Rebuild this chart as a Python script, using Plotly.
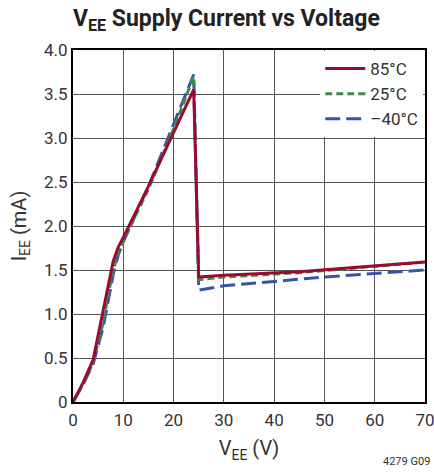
import plotly.graph_objects as go

# Data (VEE in V, IEE in mA)
v_85 = [0, 2, 4, 6, 7, 8, 9, 10, 15, 20, 24, 25, 30, 45, 70]
i_85 = [0, 0.22, 0.48, 1.05, 1.35, 1.6, 1.76, 1.87, 2.45, 3.05, 3.55, 1.42, 1.44, 1.48, 1.59]

v_25 = [0, 2, 4, 6, 7, 8, 9, 10, 15, 20, 24, 25, 30, 45, 70]
i_25 = [0, 0.2, 0.45, 0.9, 1.22, 1.5, 1.7, 1.83, 2.42, 3.1, 3.70, 1.39, 1.42, 1.47, 1.59]

v_m40 = [0, 2, 4, 6, 7, 8, 9, 10, 15, 20, 24, 25, 30, 40, 50, 70]
i_m40 = [0, 0.2, 0.43, 0.85, 1.15, 1.45, 1.67, 1.82, 2.45, 3.15, 3.72, 1.27, 1.32, 1.37, 1.42, 1.50]

x_ticks = [0, 10, 20, 30, 40, 50, 60, 70]
y_ticks = [0, 0.5, 1.0, 1.5, 2.0, 2.5, 3.0, 3.5, 4.0]
y_labels = ["0", "0.5", "1.0", "1.5", "2.0", "2.5", "3.0", "3.5", "4.0"]

FONT = "Roboto, Liberation Sans, sans-serif"

fig = go.Figure()
fig.add_trace(go.Scatter(x=v_m40, y=i_m40, mode="lines", name="–40°C",
                         line=dict(color="#3954a6", width=3, dash="15px,6px")))
fig.add_trace(go.Scatter(x=v_25, y=i_25, mode="lines", name="25°C",
                         line=dict(color="#3b8c4a", width=3, dash="7px,4px")))
fig.add_trace(go.Scatter(x=v_85, y=i_85, mode="lines", name="85°C",
                         line=dict(color="#9a0b30", width=3)))

fig.update_layout(
    width=434, height=472,
    margin=dict(l=73, r=9, t=50, b=70, autoexpand=False),
    paper_bgcolor="white", plot_bgcolor="white",
    font=dict(family=FONT, size=17, color="#333333"),
    title=dict(text="<b>V<sub>EE</sub> Supply Current vs Voltage</b>",
               x=0.168, xanchor="left", y=0.979, yanchor="top",
               font=dict(family=FONT, size=23, color="#222222")),
    showlegend=True,
    legend=dict(x=0.995, y=0.997, xanchor="right", yanchor="top",
                bgcolor="white", borderwidth=0, traceorder="reversed",
                font=dict(family=FONT, size=17, color="#333333"),
                itemwidth=40, tracegroupgap=0),
    xaxis=dict(range=[0, 70], tickvals=x_ticks, showgrid=True,
               gridcolor="#555555", gridwidth=1, showline=True,
               linecolor="black", linewidth=2, mirror=True, ticks="",
               zeroline=False, automargin=False, ticklabeloverflow="allow",
               title=dict(text="V<sub>EE</sub> (V)", standoff=12),
               ticklabelstandoff=2),
    yaxis=dict(range=[0, 4.0], tickvals=y_ticks, ticktext=y_labels,
               showgrid=True, gridcolor="#555555", gridwidth=1,
               showline=True, linecolor="black", linewidth=2, mirror=True,
               ticks="", zeroline=False, automargin=False,
               ticklabeloverflow="allow",
               title=dict(text="I<sub>EE</sub> (mA)", standoff=12)),
)

fig.add_annotation(text="4279 G09", xref="paper", yref="paper",
                   x=1.02, y=-0.145, xanchor="right", yanchor="top",
                   showarrow=False, font=dict(family=FONT, size=11, color="#333333"))

fig.write_html("out.html", config={"displayModeBar": False},
               post_script="document.body.style.margin='0';document.body.style.overflow='hidden';")
